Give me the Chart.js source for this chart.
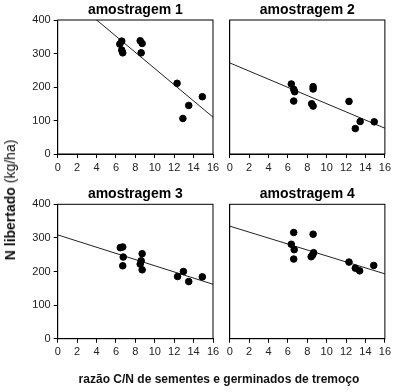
<!DOCTYPE html>
<html>
<head>
<meta charset="utf-8">
<script src="https://cdn.jsdelivr.net/npm/chart.js@4.4.1/dist/chart.umd.min.js"></script>
<style>
    body { margin: 0; background: #fff; }
    #wrap { position: relative; width: 394px; height: 392px; overflow: hidden; font-family: "Liberation Sans", Arial, sans-serif; color: #111; }
    #wrap canvas { position: absolute; left: 0; top: 0; }
    #ytitle { position: absolute; left: 10px; top: 200px; transform: translate(-50%, -50%) rotate(-90deg); white-space: nowrap; font-size: 14px; }
    #ytitle b { font-weight: bold; }
    #xtitle { position: absolute; left: 219px; top: 379px; transform: translate(-50%, -50%); white-space: nowrap; font-size: 12px; font-weight: bold; }
</style>
</head>
<body>
<div id="wrap">
    <canvas id="c1" width="394" height="392"></canvas>
    <canvas id="c2" width="394" height="392"></canvas>
    <canvas id="c3" width="394" height="392"></canvas>
    <canvas id="c4" width="394" height="392"></canvas>
    <div id="ytitle"><b>N libertado</b> (kg/ha)</div>
    <div id="xtitle">razão C/N de sementes e germinados de tremoço</div>
</div>
<script>
// C/N ratio (x) and N released in kg/ha (y), one pair of arrays per sampling
const cn1 = [6.4, 6.6, 6.6, 6.7, 8.5, 8.7, 8.6, 12.3, 12.9, 13.5, 14.9];
const n1  = [328, 337, 310, 302, 338, 330, 302, 211, 106, 145, 171];

const cn2 = [6.35, 6.6, 6.7, 6.6, 8.6, 8.6, 8.45, 8.6, 12.3, 12.95, 13.45, 14.9];
const n2  = [209, 193, 186, 158, 201, 194, 150, 143, 157, 76, 97, 96];

const cn3 = [6.45, 6.7, 6.75, 6.7, 8.7, 8.6, 8.5, 8.7, 12.35, 12.95, 13.5, 14.9];
const n3  = [271, 273, 243, 217, 253, 232, 222, 205, 185, 200, 170, 184];

const cn4 = [6.6, 8.6, 6.35, 6.65, 6.6, 8.65, 8.55, 8.4, 12.3, 12.95, 13.4, 14.85];
const n4  = [316, 311, 281, 265, 237, 256, 249, 244, 228, 210, 202, 218];

// fitted line, read at x = 0 and x = 16
const fitX = [0, 16];
const fit1 = [497, 110];
const fit2 = [272, 77];
const fit3 = [309, 162];
const fit4 = [335, 193];

const xTicks = [0, 2, 4, 6, 8, 10, 12, 14, 16];
const yTicks = [0, 100, 200, 300, 400];

Chart.defaults.font.family = '"Liberation Sans", Arial, sans-serif';
Chart.defaults.color = '#222';

// draws the closed box round each plot
const framePlugin = {
    id: 'frame',
    afterDraw(chart) {
        const a = chart.chartArea;
        const ctx = chart.ctx;
        ctx.save();
        ctx.strokeStyle = '#000';
        ctx.lineWidth = 1;
        ctx.strokeRect(a.left, a.top, a.right - a.left, a.bottom - a.top);
        ctx.restore();
    }
};

function pairs(xs, ys) {
    return xs.map((x, i) => ({ x: x, y: ys[i] }));
}

function makePanel(id, title, xs, ys, fit, showY, pad) {
    new Chart(document.getElementById(id), {
        type: 'scatter',
        data: {
            datasets: [
                {
                    data: pairs(xs, ys),
                    backgroundColor: '#000',
                    borderColor: '#000',
                    pointRadius: 3.3,
                    pointHoverRadius: 3.3
                },
                {
                    data: pairs(fitX, fit),
                    showLine: true,
                    borderColor: '#222',
                    borderWidth: 1,
                    pointRadius: 0
                }
            ]
        },
        options: {
            responsive: false,
            animation: false,
            events: [],
            layout: { padding: pad },
            plugins: {
                legend: { display: false },
                tooltip: { enabled: false },
                title: {
                    display: true,
                    text: title,
                    fullSize: false,
                    color: '#000',
                    font: { size: 14, weight: 'bold', lineHeight: 1 },
                    padding: { top: 3, bottom: 3 }
                }
            },
            scales: {
                x: {
                    type: 'linear',
                    min: 0,
                    max: 16,
                    afterBuildTicks: s => { s.ticks = xTicks.map(v => ({ value: v })); },
                    afterFit: s => { s.height = 22; },
                    grid: { drawOnChartArea: false, color: '#000', tickLength: 4 },
                    border: { color: '#000' },
                    ticks: { font: { size: 11 }, padding: 3, maxRotation: 0 }
                },
                y: {
                    min: 0,
                    max: 400,
                    afterBuildTicks: s => { s.ticks = yTicks.map(v => ({ value: v })); },
                    afterFit: s => { s.width = showY ? 30 : 0; },
                    grid: { drawOnChartArea: false, drawTicks: showY, color: '#000', tickLength: 4 },
                    border: { color: '#000' },
                    ticks: { display: showY, font: { size: 11 }, padding: 3 }
                }
            }
        },
        plugins: [framePlugin]
    });
}

makePanel('c1', 'amostragem 1', cn1, n1, fit1, true,  { left: 27.7, top: 0, right: 181, bottom: 216 });
makePanel('c2', 'amostragem 2', cn2, n2, fit2, false, { left: 229.7, top: 0, right: 9, bottom: 216 });
makePanel('c3', 'amostragem 3', cn3, n3, fit3, true,  { left: 27.7, top: 184.3, right: 181, bottom: 31.3 });
makePanel('c4', 'amostragem 4', cn4, n4, fit4, false, { left: 229.7, top: 184.3, right: 9, bottom: 31.3 });
</script>
</body>
</html>
